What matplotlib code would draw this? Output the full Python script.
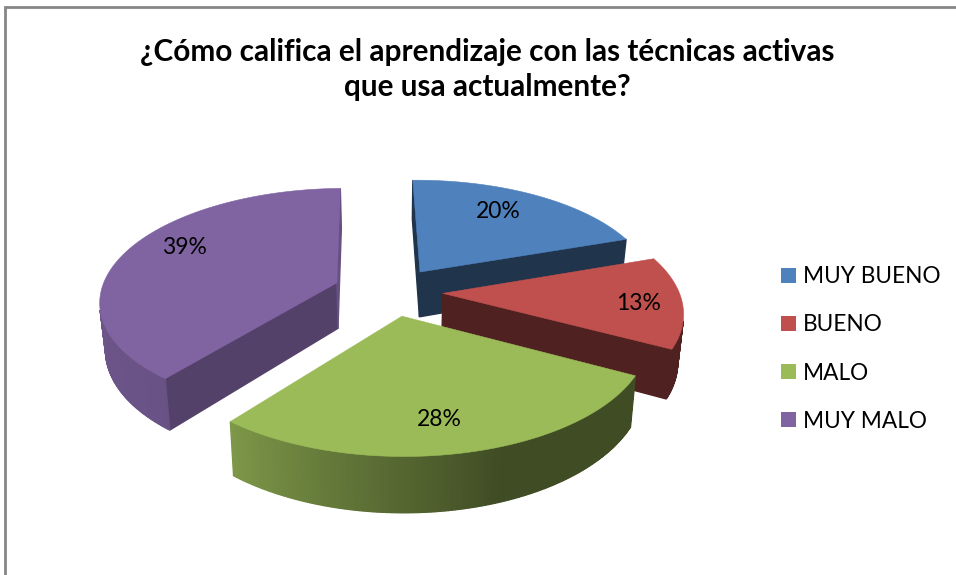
# -*- coding: utf-8 -*-
"""
Exploded 3D pie drawn by hand from the slice values.
"""

import numpy as np
import matplotlib
matplotlib.use("Agg")
import matplotlib.pyplot as plt
from matplotlib.patches import Patch, Polygon

plt.rcParams["font.family"] = ["Lato", "DejaVu Sans"]

#############################################################################
# Data
# ----

title_lines = ["¿Cómo califica el aprendizaje con las técnicas activas",
               "que usa actualmente?"]
categories = ["MUY BUENO", "BUENO", "MALO", "MUY MALO"]
values = [20, 13, 28, 39]
colors = ["#4F81BD", "#C0504D", "#9BBB59", "#8064A2"]
start_shade = [0.40, 0.41, 0.41, 0.65]
end_shade = [0.40, 0.41, 0.41, 0.80]
explode = [0.22, 0.22, 0.22, 0.245]
label_pos = [(498, 211), (639, 304), (439, 420), (184, 248)]

#############################################################################
# Projection of the pie plane to the picture
# ------------------------------------------

start_angle = -1.0
cx, cy = 391.0, 291.5
rx, ry = 236.0, 111.0
persp = 0.15
depth = 46.0
shrink = 0.98


def project(x, y, bottom=False):
    scale = 1.0 / (1.0 + persp * y)
    px = cx + rx * x * scale
    py = cy - ry * y * scale
    if bottom:
        px = cx + (px - cx) * shrink
        py = py + depth * scale
    return px, py


def rim_shade(angle):
    return np.interp(angle, [0, 160, 220, 290, 360], [0.41, 0.41, 0.82, 0.88, 0.88])


def dark(color, shade):
    rgb = np.array(matplotlib.colors.to_rgb(color))
    return tuple(rgb * shade)


fig = plt.figure(figsize=(9.56, 5.75), dpi=100)
ax = fig.add_axes([0, 0, 1, 1])
ax.set_xlim(0, 956)
ax.set_ylim(575, 0)
ax.axis("off")

# chart frame
ax.plot([5, 5, 956], [575, 7, 7], color="#868686", lw=2, solid_joinstyle="miter")

angles = start_angle + np.cumsum([0] + values) * 3.6
draw_order = [3, 0, 1, 2]

for i in draw_order:
    a0, a1 = angles[i], angles[i + 1]
    mid = np.radians((a0 + a1) / 2)
    ox, oy = explode[i] * np.sin(mid), explode[i] * np.cos(mid)
    theta = np.linspace(a0, a1, int(a1 - a0) * 2 + 2)
    xs = np.r_[ox, ox + np.sin(np.radians(theta))]
    ys = np.r_[oy, oy + np.cos(np.radians(theta))]
    top_x, top_y = project(xs, ys)
    bot_x, bot_y = project(xs, ys, bottom=True)
    n = len(xs)
    for j in range(n):
        k = (j + 1) % n
        quad = np.array([[top_x[j], top_y[j]], [top_x[k], top_y[k]],
                         [bot_x[k], bot_y[k]], [bot_x[j], bot_y[j]]])
        # keep only the faces turned to the viewer
        area = np.sum(quad[:, 0] * np.roll(quad[:, 1], -1)
                      - np.roll(quad[:, 0], -1) * quad[:, 1])
        if area >= 0:
            continue
        if j == 0:
            shade = start_shade[i]
        elif j == n - 1:
            shade = end_shade[i]
        else:
            shade = rim_shade(theta[j - 1] % 360)
        col = dark(colors[i], shade)
        ax.add_patch(Polygon(quad, closed=True, fc=col, ec=col, lw=1.0))
    ax.add_patch(Polygon(np.c_[top_x, top_y], closed=True, fc=colors[i],
                         ec=colors[i], lw=0.4))

for value, (lx, ly) in zip(values, label_pos):
    ax.text(lx, ly, f"{value}%", fontsize=16.5, ha="center", va="center", color="black")

ax.text(487, 52, title_lines[0], fontsize=21.4, fontweight="bold", ha="center", va="center")
ax.text(487, 87, title_lines[1], fontsize=21.4, fontweight="bold", ha="center", va="center")

handles = [Patch(fc=c, ec="none") for c in colors]
ax.legend(handles, categories, loc="center left", bbox_to_anchor=(772, 349),
          bbox_transform=ax.transData, frameon=False, fontsize=16.3,
          handlelength=0.66, handleheight=0.66, handletextpad=0.3, labelspacing=1.2,
          borderpad=0, borderaxespad=0.4)

fig.savefig("out.png", dpi=100)
